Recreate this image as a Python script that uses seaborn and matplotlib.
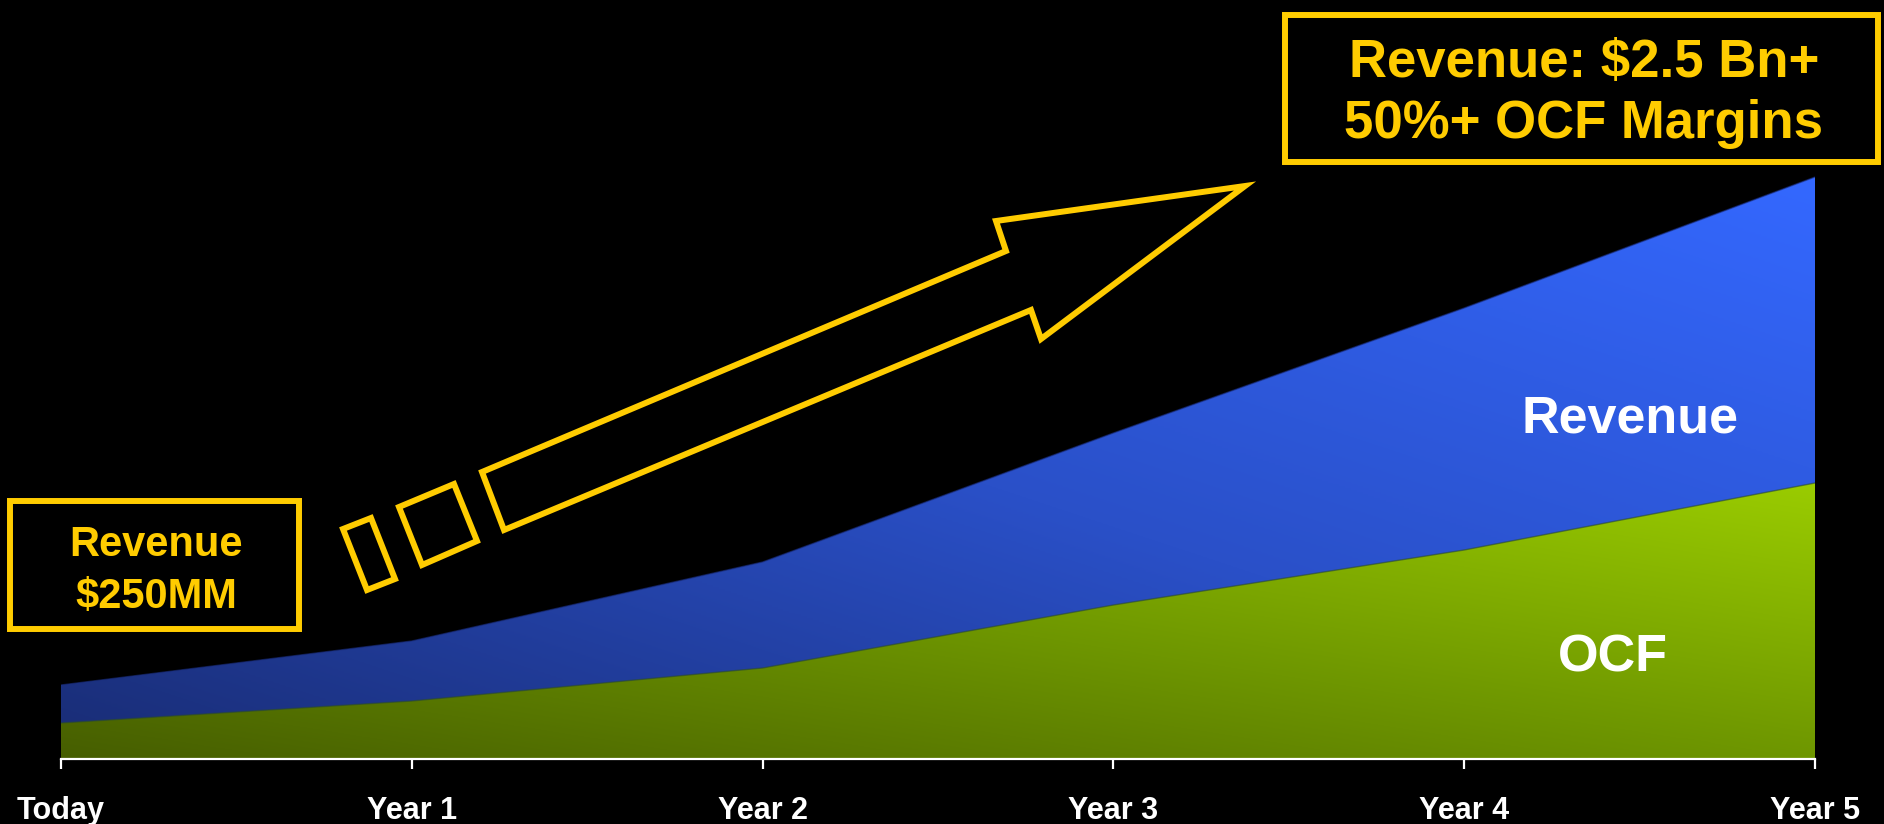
import numpy as np
import pandas as pd
import matplotlib
matplotlib.use("Agg")
import matplotlib.pyplot as plt
import matplotlib.transforms as mtransforms
from matplotlib.patches import Polygon
from matplotlib.path import Path
from matplotlib.colors import LinearSegmentedColormap
import seaborn as sns

# ---------------- data (schematic index units, no y axis shown) ----------------
periods = ["Today", "Year 1", "Year 2", "Year 3", "Year 4", "Year 5"]
revenue = [74, 118, 197, 326, 451, 582]
ocf = [36, 58, 91, 154, 209, 276]

left_box_lines = ["Revenue", "$250MM"]
top_box_lines = ["Revenue: $2.5 Bn+", "50%+ OCF Margins"]
series_labels = ["Revenue", "OCF"]

# ---------------- styling ----------------
W, H = 1884, 824
GOLD = "#FFCC00"
BLUE_STOPS = ["#192C74", "#2A50C8", "#3468FF"]
GREEN_STOPS = ["#465E00", "#6E9600", "#9ACC00"]

sns.set_theme(style="dark", rc={
    "figure.facecolor": "black",
    "axes.facecolor": "black",
    "savefig.facecolor": "black",
    "axes.edgecolor": "white",
    "text.color": "white",
    "xtick.color": "white",
})
plt.rcParams["font.family"] = ["Liberation Sans", "DejaVu Sans"]

fig = plt.figure(figsize=(W / 100, H / 100), dpi=100)
ax = fig.add_axes([61 / W, (H - 759) / H, (1815 - 61) / W, 759 / H])
ax.set_facecolor("black")

df = pd.DataFrame({"period": periods, "x": np.arange(len(periods)),
                   "revenue": revenue, "ocf": ocf})
xs = df["x"].to_numpy(dtype=float)


def gradient_area(values, stops, z):
    vals = np.asarray(values, dtype=float)
    poly = ax.fill_between(xs, 0, vals, color="none", lw=0, zorder=z)
    n = 300
    u = np.linspace(0, 1, n)[None, :]
    v = np.linspace(0, 1, n)[:, None]
    t = (u + v) / 2.0
    cmap = LinearSegmentedColormap.from_list("g", stops)
    im = ax.imshow(t, cmap=cmap, vmin=0, vmax=1,
                   extent=[xs.min(), xs.max(), 0, vals.max()],
                   origin="lower", aspect="auto", interpolation="bilinear",
                   zorder=z)
    path = poly.get_paths()[0]
    im.set_clip_path(path, transform=ax.transData)
    return im


gradient_area(df["revenue"], BLUE_STOPS, 1)
gradient_area(df["ocf"], GREEN_STOPS, 2)

# subtle edges along the tops of the areas
sns.lineplot(data=df, x="x", y="revenue", ax=ax, color="#1A2E80",
             lw=1.0, alpha=0.6, zorder=3)
sns.lineplot(data=df, x="x", y="ocf", ax=ax, color="#2A4A30",
             lw=1.0, alpha=0.6, zorder=3)

ax.set_xlim(0, len(periods) - 1)
ax.set_ylim(0, 759)
ax.set_xticks(df["x"])
ax.set_xticklabels(df["period"], fontsize=22, fontweight="bold", color="white")
ax.set_yticks([])
ax.set_xlabel("")
ax.set_ylabel("")
for s in ["left", "right", "top"]:
    ax.spines[s].set_visible(False)
ax.spines["bottom"].set_color("white")
ax.spines["bottom"].set_linewidth(1.6)
ax.tick_params(axis="x", direction="out", length=7.5, width=1.6,
               color="white", pad=19, bottom=True)
ax.grid(False)

# in-chart series labels
px = mtransforms.Affine2D().scale(1 / W, -1 / H).translate(0, 1) + fig.transFigure
fig.text(1630, 433, series_labels[0], transform=px, ha="center", va="baseline",
         fontsize=37.5, fontweight="bold", color="white", zorder=5)
fig.text(1613, 672, series_labels[1], transform=px, ha="center", va="baseline",
         fontsize=37.5, fontweight="bold", color="white", zorder=5)

# ---------------- annotation boxes ----------------
LW = 4.3


def outline(pts, fill="none"):
    fig.add_artist(Polygon(pts, closed=True, facecolor=fill, edgecolor=GOLD,
                           lw=LW, joinstyle="miter", transform=px, zorder=6))


outline([(10, 501), (299, 501), (299, 629), (10, 629)], fill="black")
fig.text(156, 556, left_box_lines[0], transform=px, ha="center", va="baseline",
         fontsize=30, fontweight="bold", color=GOLD, zorder=7)
fig.text(156, 608, left_box_lines[1], transform=px, ha="center", va="baseline",
         fontsize=30, fontweight="bold", color=GOLD, zorder=7)

outline([(1285, 15), (1878, 15), (1878, 162), (1285, 162)], fill="black")
fig.text(1584, 77, top_box_lines[0], transform=px, ha="center", va="baseline",
         fontsize=38, fontweight="bold", color=GOLD, zorder=7)
fig.text(1584, 138, top_box_lines[1], transform=px, ha="center", va="baseline",
         fontsize=38, fontweight="bold", color=GOLD, zorder=7)

# growth arrow and trailing segments
outline([(1245, 186), (996, 221), (1006, 251), (482, 472),
         (504, 530), (1031, 310), (1041, 339)])
outline([(399, 507), (454, 484), (477, 541), (422, 565)])
outline([(343, 529), (371, 518), (395, 579), (367, 590)])

fig.savefig("out.png", dpi=100, facecolor="black")
